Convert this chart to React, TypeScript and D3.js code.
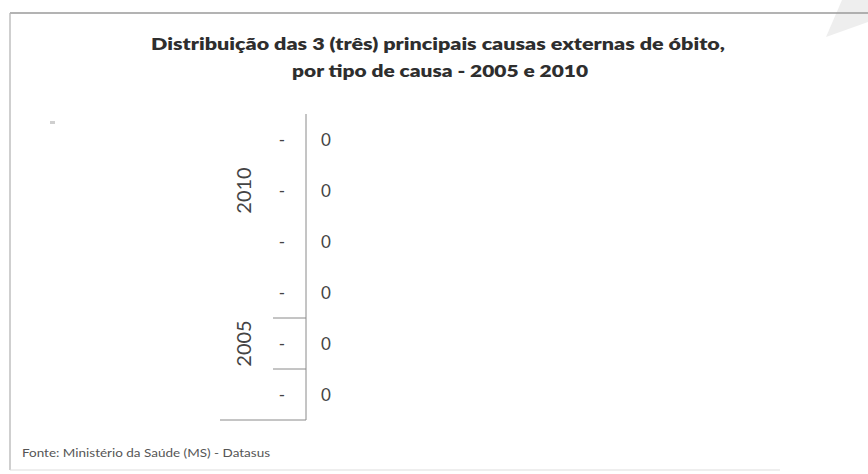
import * as d3 from "d3";

const W = 868;
const H = 474;

// chart data (the source chart is empty: every value is 0)
const groups = ["2010", "2005"];
const categoryLabels = ["-", "-", "-", "-", "-", "-"];
const categoryGroup = ["2010", "2010", "2010", "2005", "2005", "2005"];
const values = [0, 0, 0, 0, 0, 0];

const titleLines = [
  "Distribuição das 3 (três) principais causas externas de óbito,",
  "por tipo de causa - 2005 e 2010",
];
const sourceText = "Fonte: Ministério da Saúde (MS) - Datasus";

const font = "Lato, 'Open Sans', 'DejaVu Sans', sans-serif";

export default function App() {
  const plotTop = 114;
  const plotBottom = 420;
  const axisX = 306;

  const ids = categoryLabels.map((_, i) => String(i));
  const y = d3.scaleBand().domain(ids).range([plotTop, plotBottom]).padding(0);
  const x = d3.scaleLinear().domain([0, 1]).range([axisX, 800]);

  // vertical span of every group
  const groupSpans = groups.map((g) => {
    const idx = categoryGroup
      .map((cg, i) => (cg === g ? i : -1))
      .filter((i) => i >= 0);
    const y0 = y(String(idx[0]))!;
    const y1 = y(String(idx[idx.length - 1]))! + y.bandwidth();
    return { g, idx, y0, y1 };
  });

  // inner tick boundaries (only those visible in the scan: lower group)
  const innerTicks = groupSpans[1].idx.slice(1).map((i) => y(String(i))!);

  return (
    <svg
      width={W}
      height={H}
      style={{ position: "absolute", left: 0, top: 0, background: "#fff" }}
    >
      {/* scan artefact in the corner */}
      <polygon points="842,0 868,0 868,22 826,37" fill="#eeeeee" />
      <rect x={50} y={121} width={5} height={3} fill="#cfcfcf" />

      {/* frame */}
      <line x1={10} y1={13} x2={868} y2={13} stroke="#9a9a9a" strokeWidth={1.6} />
      <line x1={10} y1={13} x2={10} y2={470} stroke="#b5b5b5" strokeWidth={1.3} />
      <line x1={10} y1={470} x2={780} y2={470} stroke="#dddddd" strokeWidth={1} />

      {/* title */}
      <g fontFamily={font} fontWeight={800} fill="#2e2e2e" fontSize={17.5} textAnchor="middle">
        <text x={438} y={50} textLength={574} lengthAdjust="spacingAndGlyphs">
          {titleLines[0]}
        </text>
        <text x={440} y={77} textLength={296} lengthAdjust="spacingAndGlyphs">
          {titleLines[1]}
        </text>
      </g>

      {/* bars (all zero width) */}
      <g fill="#4f81bd">
        {values.map((v, i) => (
          <rect
            key={i}
            x={x(0)}
            y={y(String(i))! + y.bandwidth() * 0.2}
            width={x(v) - x(0)}
            height={y.bandwidth() * 0.6}
          />
        ))}
      </g>

      {/* category axis */}
      <line x1={axisX} y1={plotTop} x2={axisX} y2={plotBottom} stroke="#8a8a8a" strokeWidth={1} />
      {innerTicks.map((t, i) => (
        <line key={i} x1={273} y1={t} x2={axisX} y2={t} stroke="#8a8a8a" strokeWidth={1} />
      ))}
      <line x1={220} y1={plotBottom} x2={axisX} y2={plotBottom} stroke="#8a8a8a" strokeWidth={1} />

      <g fontFamily={font} fill="#444" fontSize={17}>
        {categoryLabels.map((c, i) => (
          <text
            key={"c" + i}
            x={282}
            y={y(String(i))! + y.bandwidth() / 2}
            textAnchor="middle"
            dominantBaseline="central"
          >
            {c}
          </text>
        ))}
        {values.map((v, i) => (
          <text
            key={"v" + i}
            x={x(v) + 15}
            y={y(String(i))! + y.bandwidth() / 2}
            textAnchor="start"
            dominantBaseline="central"
          >
            {v}
          </text>
        ))}
      </g>

      <g fontFamily={font} fill="#444" fontSize={20}>
        {groupSpans.map((s) => (
          <text
            key={s.g}
            transform={`translate(243,${(s.y0 + s.y1) / 2}) rotate(-90)`}
            textAnchor="middle"
            dominantBaseline="central"
          >
            {s.g}
          </text>
        ))}
      </g>

      {/* source */}
      <text
        x={22}
        y={457}
        fontFamily={font}
        fontSize={12}
        fill="#555"
        textLength={248}
        lengthAdjust="spacingAndGlyphs"
      >
        {sourceText}
      </text>
    </svg>
  );
}
